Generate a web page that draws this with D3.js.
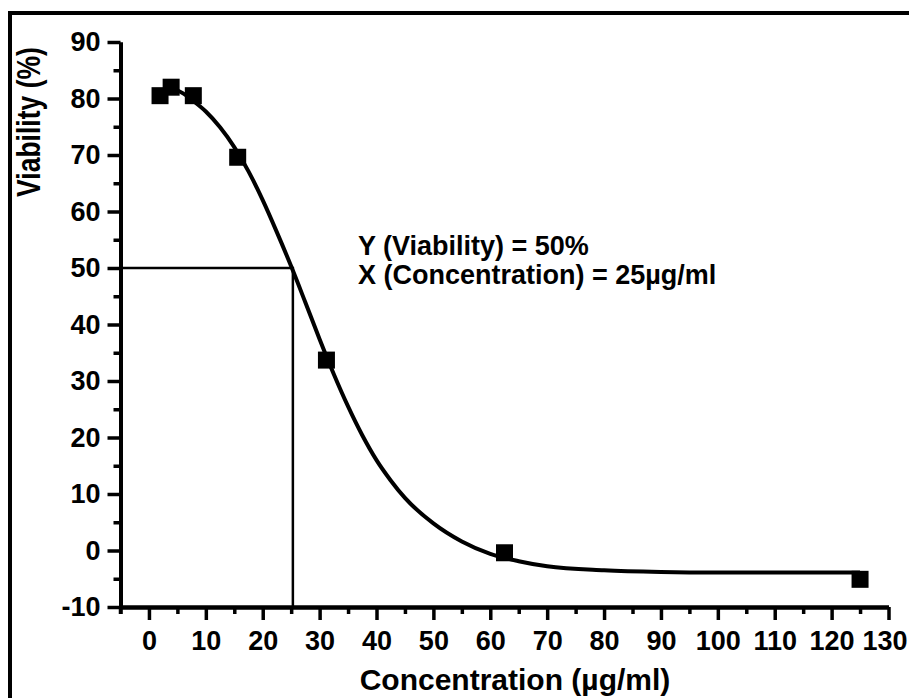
<!DOCTYPE html>
<html>
<head>
<meta charset="utf-8">
<script src="https://cdn.jsdelivr.net/npm/d3@7"></script>
<style>
  body { margin: 0; background: #fff; }
  svg { display: block; }
  text { font-family: "Liberation Sans", Arial, sans-serif; font-weight: bold; fill: #000; }
</style>
</head>
<body>
<script>
// measured points
const concentration = [1.95, 3.9, 7.8, 15.6, 31.2, 62.5, 125];
const viability = [80.5, 82.0, 80.5, 69.6, 33.7, -0.4, -5.1];

// fitted curve
const fitX = [3.9, 6, 8, 10, 12.5, 15, 17.5, 20, 22.5, 25, 27.5, 30, 32.5, 35, 37.5, 40, 42.5, 45, 50, 55, 60, 65, 70, 80, 90, 100, 110, 125];
const fitY = [82.0, 80.9, 79.4, 77.7, 74.9, 71.4, 67.1, 62.0, 56.3, 50.3, 43.9, 37.4, 31.2, 25.5, 20.4, 16.0, 12.4, 9.3, 4.8, 1.6, -0.6, -1.9, -2.8, -3.5, -3.8, -3.9, -3.9, -3.9];

const xTicks = d3.range(0, 131, 10);
const xMinor = d3.range(-5, 130, 10);
const yTicks = d3.range(-10, 91, 10);
const yMinor = d3.range(-5, 90, 10);

const ic50 = { x: 25.3, y: 50 };
const noteLines = ["Y (Viability) = 50%", "X (Concentration) = 25\u00b5g/ml"];

const w = 909;
const h = 698;

const xScale = d3.scaleLinear().domain([-5, 130]).range([120.5, 888.5]);
const yScale = d3.scaleLinear().domain([-10, 90]).range([607, 42]);

const svg = d3.select("body").append("svg").attr("width", w).attr("height", h);

// outer frame (top and left visible, rest cropped)
svg.append("path")
  .attr("d", "M10," + (h + 5) + " L10,13 L" + (w + 5) + ",13")
  .attr("fill", "none")
  .attr("stroke", "#000")
  .attr("stroke-width", 4);

// minor ticks first
const xMinorAxis = d3.axisBottom(xScale).tickValues(xMinor).tickSize(7).tickFormat("").tickSizeOuter(0);
const yMinorAxis = d3.axisLeft(yScale).tickValues(yMinor).tickSize(7).tickFormat("").tickSizeOuter(0);

const plain = (d) => String(d);
const xAxis = d3.axisBottom(xScale).tickValues(xTicks).tickSize(13).tickSizeOuter(0).tickPadding(11).tickFormat(plain);
const yAxis = d3.axisLeft(yScale).tickValues(yTicks).tickSize(13).tickSizeOuter(0).tickPadding(7).tickFormat(plain);

svg.append("g").attr("transform", "translate(0," + yScale(-10) + ")").call(xMinorAxis);
svg.append("g").attr("transform", "translate(" + xScale(-5) + ",0)").call(yMinorAxis);

const gx = svg.append("g")
  .attr("id", "x-axis")
  .attr("transform", "translate(0," + yScale(-10) + ")")
  .call(xAxis);
const gy = svg.append("g")
  .attr("id", "y-axis")
  .attr("transform", "translate(" + xScale(-5) + ",0)")
  .call(yAxis);

svg.selectAll(".domain").attr("stroke", "#000").attr("stroke-width", 4);
svg.selectAll(".tick line").attr("stroke", "#000").attr("stroke-width", 3.5);
svg.selectAll(".tick text")
  .style("font-family", "'Liberation Sans', Arial, sans-serif")
  .style("font-weight", "bold")
  .style("font-size", "27px")
  .attr("fill", "#000");

// last label sits against the right edge
gx.selectAll(".tick text").filter((d) => d === 130).attr("dx", -4);

// corner tick at the x axis start
svg.append("line")
  .attr("x1", xScale(-5)).attr("x2", xScale(-5))
  .attr("y1", yScale(-10)).attr("y2", yScale(-10) + 7)
  .attr("stroke", "#000").attr("stroke-width", 3.5);

// IC50 guide lines
svg.append("path")
  .attr("d", "M" + xScale(-5) + "," + yScale(ic50.y) + " H" + xScale(ic50.x) + " V" + yScale(-10))
  .attr("fill", "none")
  .attr("stroke", "#000")
  .attr("stroke-width", 2.5);

// fitted curve
const line = d3.line()
  .x((d, i) => xScale(fitX[i]))
  .y((d, i) => yScale(fitY[i]))
  .curve(d3.curveMonotoneX);

svg.append("path")
  .datum(fitX)
  .attr("d", line)
  .attr("fill", "none")
  .attr("stroke", "#000")
  .attr("stroke-width", 4);

// square markers
const size = 17;
svg.selectAll("rect.pt")
  .data(concentration)
  .enter()
  .append("rect")
  .attr("class", "pt")
  .attr("x", (d) => xScale(d) - size / 2)
  .attr("y", (d, i) => yScale(viability[i]) - size / 2)
  .attr("width", size)
  .attr("height", size)
  .attr("fill", "#000");

// annotation
svg.selectAll("text.note")
  .data(noteLines)
  .enter()
  .append("text")
  .attr("class", "note")
  .attr("x", 358)
  .attr("y", (d, i) => 255 + i * 29)
  .style("font-size", "27px")
  .text((d) => d);

// axis titles
svg.append("text")
  .attr("transform", "translate(40,122) rotate(-90) scale(0.78,1)")
  .attr("text-anchor", "middle")
  .style("font-size", "34px")
  .text("Viability (%)");

svg.append("text")
  .attr("x", 515)
  .attr("y", 690)
  .attr("text-anchor", "middle")
  .style("font-size", "30px")
  .text("Concentration (\u00b5g/ml)");
</script>
</body>
</html>
